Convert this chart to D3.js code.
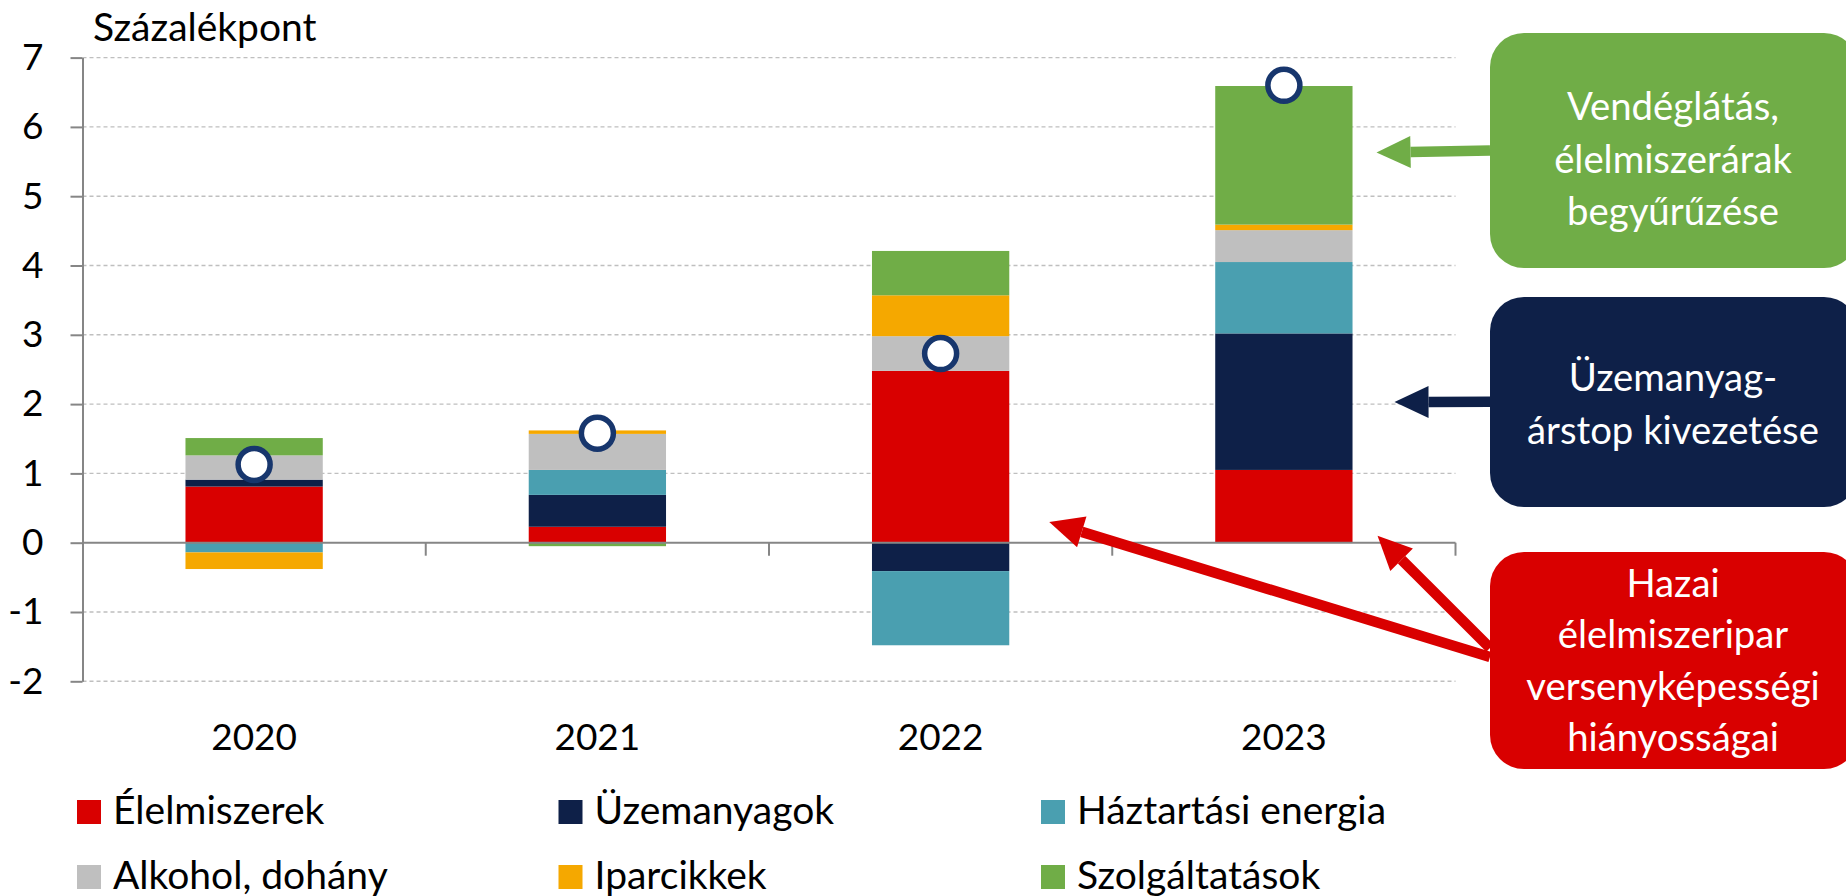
<!DOCTYPE html>
<html>
<head>
<meta charset="utf-8">
<script src="https://cdnjs.cloudflare.com/ajax/libs/d3/7.8.5/d3.min.js"></script>
<style>
  html, body { margin: 0; padding: 0; background: #fff; }
  svg { display: block; font-family: Lato, "Open Sans", sans-serif; }
</style>
</head>
<body>
<svg id="chart" width="1846" height="896"></svg>
<script>
// ---------------- DATA ----------------
const categories = ["2020", "2021", "2022", "2023"];
const seriesNames = ["Élelmiszerek", "Üzemanyagok", "Háztartási energia", "Alkohol, dohány", "Iparcikkek", "Szolgáltatások"];
const seriesColors = ["#D90000", "#0E2048", "#4A9FB0", "#BFBFBF", "#F5A800", "#70AD47"];
const elelmiszerek   = [0.81, 0.23, 2.48, 1.05];
const uzemanyagok    = [0.10, 0.46, -0.41, 1.97];
const haztartasi     = [-0.14, 0.36, -1.07, 1.03];
const alkohol        = [0.35, 0.52, 0.50, 0.46];
const iparcikkek     = [-0.24, 0.05, 0.59, 0.08];
const szolgaltatasok = [0.25, -0.05, 0.64, 2.00];
const total          = [1.13, 1.58, 2.73, 6.60];
const yTicks = [-2, -1, 0, 1, 2, 3, 4, 5, 6, 7];
const yTitle = "Százalékpont";

const callouts = [
  { lines: ["Vendéglátás,", "élelmiszerárak", "begyűrűzése"], color: "#70AD47" },
  { lines: ["Üzemanyag-", "árstop kivezetése"], color: "#0E2048" },
  { lines: ["Hazai", "élelmiszeripar", "versenyképességi", "hiányosságai"], color: "#D90000" }
];

// ---------------- BUILD TABLE ----------------
const seriesArrays = [elelmiszerek, uzemanyagok, haztartasi, alkohol, iparcikkek, szolgaltatasok];
const table = categories.map((c, i) => {
  const row = { cat: c };
  seriesNames.forEach((s, k) => row[s] = seriesArrays[k][i]);
  return row;
});

const svg = d3.select("#chart");
const NUMFONT = 37, TXTFONT = 39, BOXFONT = 38.3;

const x = d3.scaleBand().domain(categories).range([82.5, 1455.5]).paddingInner(0.6).paddingOuter(0.3);
const y = d3.scaleLinear().domain([-2, 7]).range([681.3, 57.6]);
const xLeft = 82.5, xRight = 1455.5;

// gridlines
svg.append("g").selectAll("line").data(yTicks.filter(d => d !== 0)).join("line")
  .attr("x1", xLeft).attr("x2", xRight)
  .attr("y1", d => y(d)).attr("y2", d => y(d))
  .attr("stroke", "#BFBFBF").attr("stroke-width", 1.4).attr("stroke-dasharray", "4,3");

// stacked bars
const stack = d3.stack().keys(seriesNames).offset(d3.stackOffsetDiverging);
const stacked = stack(table);
svg.append("g").selectAll("g").data(stacked).join("g")
  .attr("fill", (d, i) => seriesColors[i])
  .selectAll("rect").data(d => d).join("rect")
  .attr("x", d => x(d.data.cat))
  .attr("width", x.bandwidth())
  .attr("y", d => y(Math.max(d[0], d[1])))
  .attr("height", d => Math.abs(y(d[0]) - y(d[1])));

// y axis
const yAxis = d3.axisLeft(y).tickValues(yTicks).tickSize(12).tickPadding(27).tickSizeOuter(0).tickFormat(d => String(d));
const gy = svg.append("g").attr("transform", `translate(${xLeft},0)`).call(yAxis);
gy.select(".domain").attr("stroke", "#868686").attr("stroke-width", 2);
gy.selectAll(".tick line").attr("stroke", "#868686").attr("stroke-width", 2);
gy.selectAll(".tick text").attr("font-size", NUMFONT).attr("fill", "#000").attr("font-family", "Lato");

// zero axis line + category ticks
svg.append("line").attr("x1", xLeft).attr("x2", xRight).attr("y1", y(0)).attr("y2", y(0))
  .attr("stroke", "#868686").attr("stroke-width", 2);
const bounds = categories.map((c, i) => xLeft + i * x.step()).concat([xRight]).slice(1);
svg.append("g").selectAll("line").data(bounds).join("line")
  .attr("x1", d => d).attr("x2", d => d).attr("y1", y(0)).attr("y2", y(0) + 13)
  .attr("stroke", "#868686").attr("stroke-width", 2);

// x labels
svg.append("g").selectAll("text").data(categories).join("text")
  .attr("x", d => x(d) + x.bandwidth() / 2).attr("y", 750)
  .attr("text-anchor", "middle").attr("font-size", NUMFONT).attr("fill", "#000").text(d => d);

// total markers
svg.append("g").selectAll("circle").data(categories).join("circle")
  .attr("cx", d => x(d) + x.bandwidth() / 2)
  .attr("cy", (d, i) => y(total[i]))
  .attr("r", 16).attr("fill", "#fff").attr("stroke", "#17366D").attr("stroke-width", 5.5);

// title
svg.append("text").attr("x", 93).attr("y", 41).attr("font-size", TXTFONT).attr("fill", "#000").text(yTitle);

// legend
const legCols = [77, 558.5, 1041];
const legRows = [800, 865];
const leg = svg.append("g").selectAll("g").data(seriesNames).join("g")
  .attr("transform", (d, i) => `translate(${legCols[i % 3]},${legRows[Math.floor(i / 3)]})`);
leg.append("rect").attr("width", 24).attr("height", 24).attr("fill", (d, i) => seriesColors[i]);
leg.append("text").attr("x", 36).attr("y", 24).attr("font-size", TXTFONT).attr("fill", "#000").text(d => d);

// callout boxes
const boxes = [
  { x: 1490, y: 33, w: 368, h: 235, firstBase: 120, lh: 52.5 },
  { x: 1490, y: 297, w: 368, h: 210, firstBase: 391, lh: 52.5 },
  { x: 1490, y: 552, w: 368, h: 217, firstBase: 597, lh: 51.3 }
];
boxes.forEach((b, k) => {
  svg.append("rect").attr("x", b.x).attr("y", b.y).attr("width", b.w).attr("height", b.h)
    .attr("rx", 34).attr("ry", 34).attr("fill", callouts[k].color);
  svg.append("g").selectAll("text").data(callouts[k].lines).join("text")
    .attr("x", 1673).attr("y", (d, i) => b.firstBase + i * b.lh)
    .attr("text-anchor", "middle").attr("font-size", BOXFONT).attr("fill", "#fff").text(d => d);
});

// arrows
function arrow(x1, y1, x2, y2, color, headLen = 34, headHalf = 16, width = 10.5) {
  const ang = Math.atan2(y2 - y1, x2 - x1);
  const bx = x2 - headLen * Math.cos(ang), by = y2 - headLen * Math.sin(ang);
  svg.append("line").attr("x1", x1).attr("y1", y1).attr("x2", bx).attr("y2", by)
    .attr("stroke", color).attr("stroke-width", width);
  const px = -Math.sin(ang) * headHalf, py = Math.cos(ang) * headHalf;
  svg.append("polygon")
    .attr("points", `${x2},${y2} ${bx + px},${by + py} ${bx - px},${by - py}`)
    .attr("fill", color);
}
const right2023 = x("2023") + x.bandwidth();
const right2022 = x("2022") + x.bandwidth();
arrow(1490, 150.5, right2023 + 24, y(5.63), "#70AD47");
arrow(1490, 401.7, right2023 + 42, y(2.03), "#0E2048");
arrow(1490, 657, right2022 + 40, y(0.30), "#D90000");
arrow(1490, 648, right2023 + 25, y(0.10), "#D90000");
</script>
</body>
</html>
